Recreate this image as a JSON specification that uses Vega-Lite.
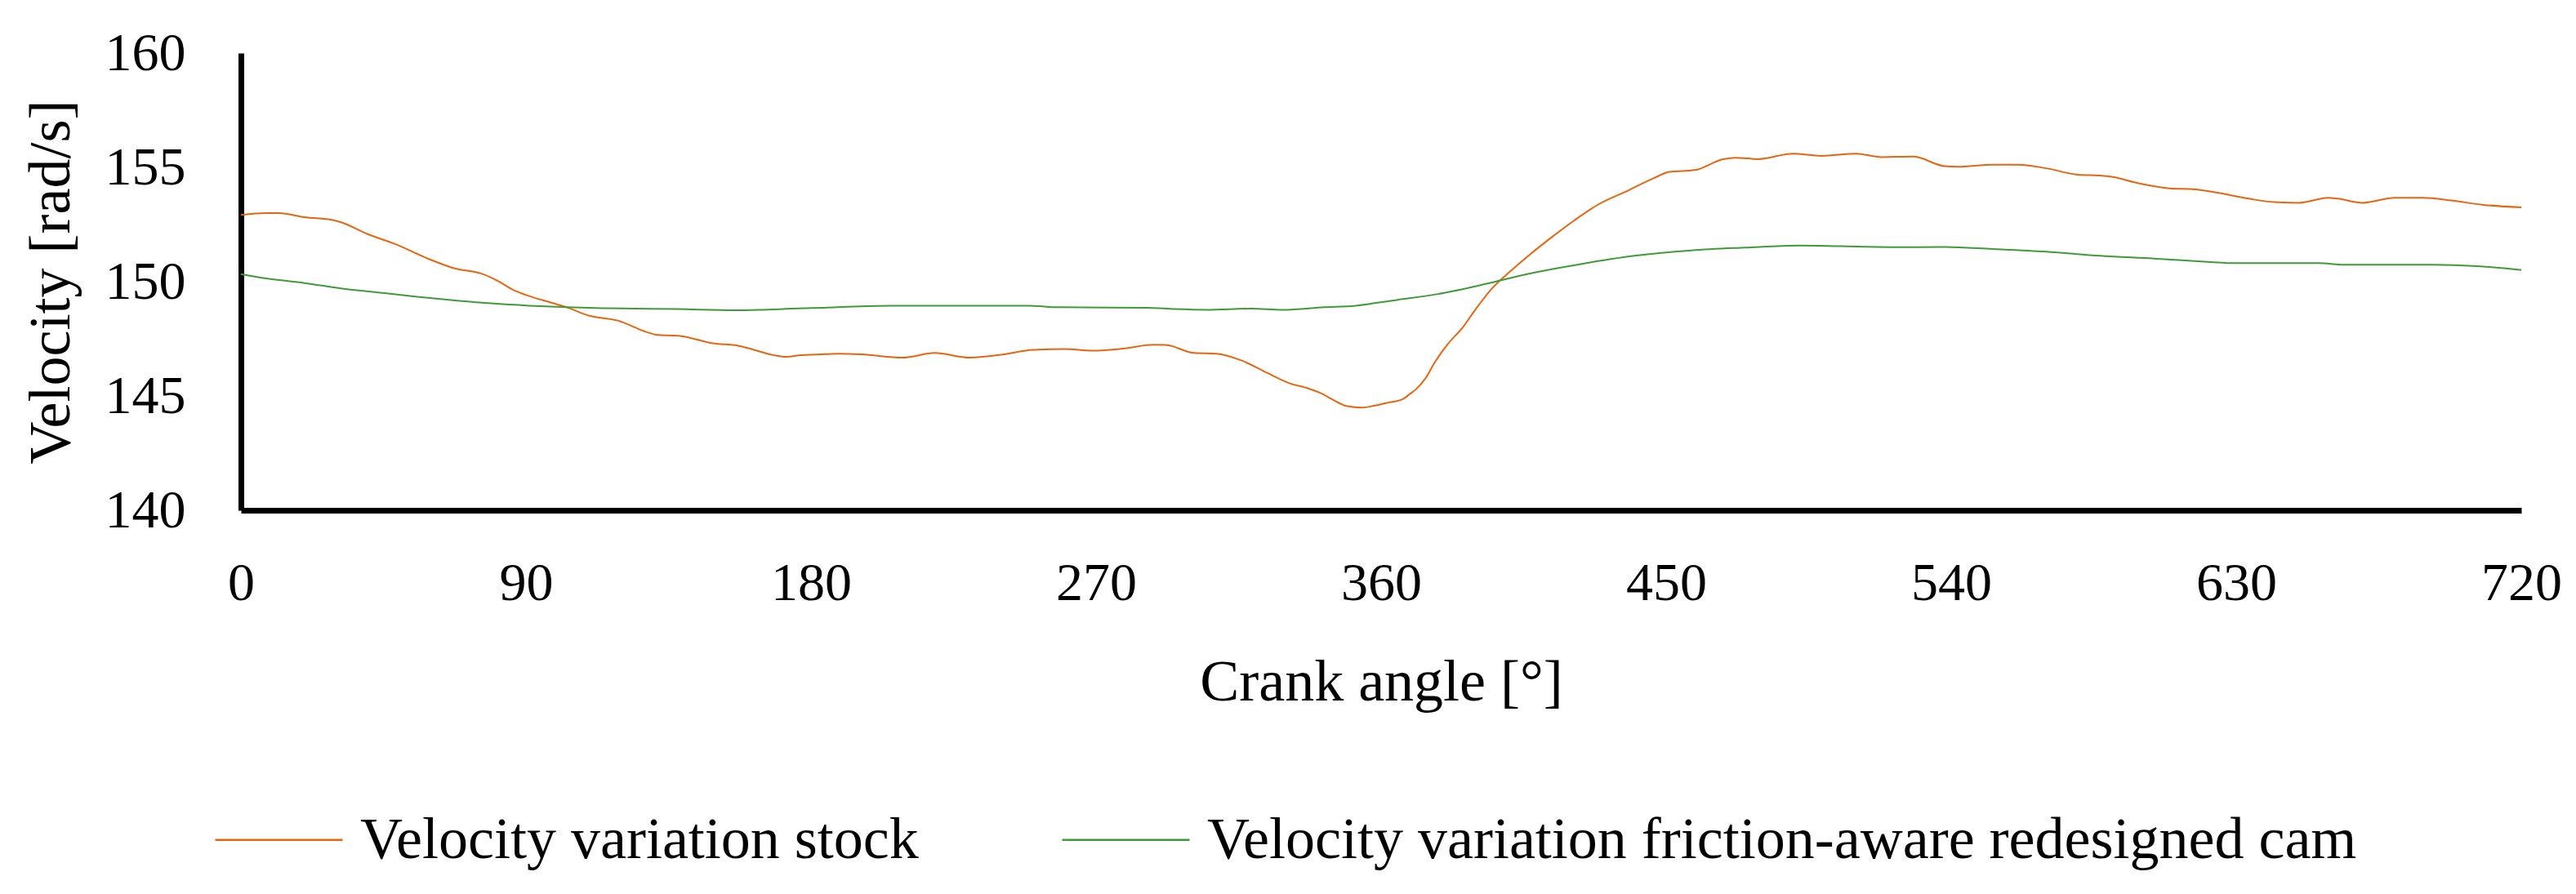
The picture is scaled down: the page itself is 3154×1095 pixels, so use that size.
{
  "$schema": "https://vega.github.io/schema/vega-lite/v6.json",
  "width": 2792,
  "height": 560,
  "autosize": {"type": "none"},
  "padding": {"left": 295, "top": 65, "right": 67, "bottom": 470},
  "background": "white",
  "config": {
    "view": {"stroke": null},
    "font": "Liberation Serif",
    "axis": {
      "domainColor": "black",
      "domainWidth": 7,
      "ticks": false,
      "tickSize": 0,
      "grid": false,
      "labelFont": "Liberation Serif",
      "labelFontSize": 66,
      "labelColor": "black",
      "titleFont": "Liberation Serif",
      "titleFontSize": 72,
      "titleFontWeight": "normal",
      "titleColor": "black"
    },
    "legend": {
      "labelFont": "Liberation Serif",
      "labelFontSize": 72,
      "labelColor": "black",
      "labelLimit": 0,
      "padding": 0
    }
  },
  "data": {
    "values": [
      {"angle": 0, "v": 152.92, "series": "Velocity variation stock"},
      {"angle": 8, "v": 153.0, "series": "Velocity variation stock"},
      {"angle": 12, "v": 153.0, "series": "Velocity variation stock"},
      {"angle": 20, "v": 152.82, "series": "Velocity variation stock"},
      {"angle": 29, "v": 152.7, "series": "Velocity variation stock"},
      {"angle": 32, "v": 152.58, "series": "Velocity variation stock"},
      {"angle": 40, "v": 152.08, "series": "Velocity variation stock"},
      {"angle": 49, "v": 151.63, "series": "Velocity variation stock"},
      {"angle": 59, "v": 151.01, "series": "Velocity variation stock"},
      {"angle": 67, "v": 150.6, "series": "Velocity variation stock"},
      {"angle": 77, "v": 150.3, "series": "Velocity variation stock"},
      {"angle": 81, "v": 150.04, "series": "Velocity variation stock"},
      {"angle": 86, "v": 149.64, "series": "Velocity variation stock"},
      {"angle": 91, "v": 149.37, "series": "Velocity variation stock"},
      {"angle": 98, "v": 149.08, "series": "Velocity variation stock"},
      {"angle": 103, "v": 148.87, "series": "Velocity variation stock"},
      {"angle": 110, "v": 148.51, "series": "Velocity variation stock"},
      {"angle": 119, "v": 148.3, "series": "Velocity variation stock"},
      {"angle": 128, "v": 147.8, "series": "Velocity variation stock"},
      {"angle": 131, "v": 147.68, "series": "Velocity variation stock"},
      {"angle": 139, "v": 147.62, "series": "Velocity variation stock"},
      {"angle": 149, "v": 147.3, "series": "Velocity variation stock"},
      {"angle": 157, "v": 147.2, "series": "Velocity variation stock"},
      {"angle": 162, "v": 147.02, "series": "Velocity variation stock"},
      {"angle": 168, "v": 146.79, "series": "Velocity variation stock"},
      {"angle": 172, "v": 146.71, "series": "Velocity variation stock"},
      {"angle": 177, "v": 146.79, "series": "Velocity variation stock"},
      {"angle": 182, "v": 146.81, "series": "Velocity variation stock"},
      {"angle": 189, "v": 146.85, "series": "Velocity variation stock"},
      {"angle": 196, "v": 146.82, "series": "Velocity variation stock"},
      {"angle": 209, "v": 146.68, "series": "Velocity variation stock"},
      {"angle": 219, "v": 146.88, "series": "Velocity variation stock"},
      {"angle": 230, "v": 146.68, "series": "Velocity variation stock"},
      {"angle": 241, "v": 146.82, "series": "Velocity variation stock"},
      {"angle": 250, "v": 147.02, "series": "Velocity variation stock"},
      {"angle": 260, "v": 147.05, "series": "Velocity variation stock"},
      {"angle": 269, "v": 146.98, "series": "Velocity variation stock"},
      {"angle": 279, "v": 147.08, "series": "Velocity variation stock"},
      {"angle": 288, "v": 147.24, "series": "Velocity variation stock"},
      {"angle": 292, "v": 147.23, "series": "Velocity variation stock"},
      {"angle": 301, "v": 146.88, "series": "Velocity variation stock"},
      {"angle": 308, "v": 146.85, "series": "Velocity variation stock"},
      {"angle": 316, "v": 146.55, "series": "Velocity variation stock"},
      {"angle": 324, "v": 146.01, "series": "Velocity variation stock"},
      {"angle": 331, "v": 145.56, "series": "Velocity variation stock"},
      {"angle": 337, "v": 145.33, "series": "Velocity variation stock"},
      {"angle": 341, "v": 145.12, "series": "Velocity variation stock"},
      {"angle": 345, "v": 144.82, "series": "Velocity variation stock"},
      {"angle": 349, "v": 144.56, "series": "Velocity variation stock"},
      {"angle": 354, "v": 144.49, "series": "Velocity variation stock"},
      {"angle": 358, "v": 144.58, "series": "Velocity variation stock"},
      {"angle": 362, "v": 144.7, "series": "Velocity variation stock"},
      {"angle": 367, "v": 144.87, "series": "Velocity variation stock"},
      {"angle": 369, "v": 145.08, "series": "Velocity variation stock"},
      {"angle": 371, "v": 145.29, "series": "Velocity variation stock"},
      {"angle": 374, "v": 145.77, "series": "Velocity variation stock"},
      {"angle": 377, "v": 146.48, "series": "Velocity variation stock"},
      {"angle": 381, "v": 147.26, "series": "Velocity variation stock"},
      {"angle": 386, "v": 148.04, "series": "Velocity variation stock"},
      {"angle": 389, "v": 148.63, "series": "Velocity variation stock"},
      {"angle": 395, "v": 149.7, "series": "Velocity variation stock"},
      {"angle": 401, "v": 150.48, "series": "Velocity variation stock"},
      {"angle": 407, "v": 151.19, "series": "Velocity variation stock"},
      {"angle": 414, "v": 151.96, "series": "Velocity variation stock"},
      {"angle": 421, "v": 152.68, "series": "Velocity variation stock"},
      {"angle": 428, "v": 153.33, "series": "Velocity variation stock"},
      {"angle": 438, "v": 153.99, "series": "Velocity variation stock"},
      {"angle": 446, "v": 154.52, "series": "Velocity variation stock"},
      {"angle": 451, "v": 154.8, "series": "Velocity variation stock"},
      {"angle": 459, "v": 154.88, "series": "Velocity variation stock"},
      {"angle": 468, "v": 155.36, "series": "Velocity variation stock"},
      {"angle": 472, "v": 155.42, "series": "Velocity variation stock"},
      {"angle": 479, "v": 155.36, "series": "Velocity variation stock"},
      {"angle": 490, "v": 155.6, "series": "Velocity variation stock"},
      {"angle": 499, "v": 155.5, "series": "Velocity variation stock"},
      {"angle": 510, "v": 155.6, "series": "Velocity variation stock"},
      {"angle": 518, "v": 155.45, "series": "Velocity variation stock"},
      {"angle": 528, "v": 155.47, "series": "Velocity variation stock"},
      {"angle": 538, "v": 155.05, "series": "Velocity variation stock"},
      {"angle": 542, "v": 155.03, "series": "Velocity variation stock"},
      {"angle": 553, "v": 155.12, "series": "Velocity variation stock"},
      {"angle": 561, "v": 155.12, "series": "Velocity variation stock"},
      {"angle": 570, "v": 154.96, "series": "Velocity variation stock"},
      {"angle": 580, "v": 154.68, "series": "Velocity variation stock"},
      {"angle": 587, "v": 154.64, "series": "Velocity variation stock"},
      {"angle": 591, "v": 154.58, "series": "Velocity variation stock"},
      {"angle": 599, "v": 154.31, "series": "Velocity variation stock"},
      {"angle": 609, "v": 154.08, "series": "Velocity variation stock"},
      {"angle": 617, "v": 154.04, "series": "Velocity variation stock"},
      {"angle": 624, "v": 153.89, "series": "Velocity variation stock"},
      {"angle": 634, "v": 153.63, "series": "Velocity variation stock"},
      {"angle": 642, "v": 153.48, "series": "Velocity variation stock"},
      {"angle": 650, "v": 153.45, "series": "Velocity variation stock"},
      {"angle": 659, "v": 153.67, "series": "Velocity variation stock"},
      {"angle": 662, "v": 153.63, "series": "Velocity variation stock"},
      {"angle": 670, "v": 153.45, "series": "Velocity variation stock"},
      {"angle": 680, "v": 153.67, "series": "Velocity variation stock"},
      {"angle": 689, "v": 153.67, "series": "Velocity variation stock"},
      {"angle": 698, "v": 153.55, "series": "Velocity variation stock"},
      {"angle": 708, "v": 153.36, "series": "Velocity variation stock"},
      {"angle": 720, "v": 153.25, "series": "Velocity variation stock"},
      {"angle": 0, "v": 150.33, "series": "Velocity variation friction-aware redesigned cam"},
      {"angle": 8, "v": 150.14, "series": "Velocity variation friction-aware redesigned cam"},
      {"angle": 20, "v": 149.94, "series": "Velocity variation friction-aware redesigned cam"},
      {"angle": 32, "v": 149.7, "series": "Velocity variation friction-aware redesigned cam"},
      {"angle": 44, "v": 149.52, "series": "Velocity variation friction-aware redesigned cam"},
      {"angle": 55, "v": 149.35, "series": "Velocity variation friction-aware redesigned cam"},
      {"angle": 67, "v": 149.19, "series": "Velocity variation friction-aware redesigned cam"},
      {"angle": 79, "v": 149.05, "series": "Velocity variation friction-aware redesigned cam"},
      {"angle": 91, "v": 148.95, "series": "Velocity variation friction-aware redesigned cam"},
      {"angle": 103, "v": 148.88, "series": "Velocity variation friction-aware redesigned cam"},
      {"angle": 115, "v": 148.84, "series": "Velocity variation friction-aware redesigned cam"},
      {"angle": 138, "v": 148.8, "series": "Velocity variation friction-aware redesigned cam"},
      {"angle": 156, "v": 148.75, "series": "Velocity variation friction-aware redesigned cam"},
      {"angle": 164, "v": 148.77, "series": "Velocity variation friction-aware redesigned cam"},
      {"angle": 174, "v": 148.82, "series": "Velocity variation friction-aware redesigned cam"},
      {"angle": 184, "v": 148.86, "series": "Velocity variation friction-aware redesigned cam"},
      {"angle": 205, "v": 148.95, "series": "Velocity variation friction-aware redesigned cam"},
      {"angle": 249, "v": 148.95, "series": "Velocity variation friction-aware redesigned cam"},
      {"angle": 258, "v": 148.88, "series": "Velocity variation friction-aware redesigned cam"},
      {"angle": 286, "v": 148.86, "series": "Velocity variation friction-aware redesigned cam"},
      {"angle": 295, "v": 148.8, "series": "Velocity variation friction-aware redesigned cam"},
      {"angle": 305, "v": 148.77, "series": "Velocity variation friction-aware redesigned cam"},
      {"angle": 319, "v": 148.82, "series": "Velocity variation friction-aware redesigned cam"},
      {"angle": 329, "v": 148.77, "series": "Velocity variation friction-aware redesigned cam"},
      {"angle": 342, "v": 148.88, "series": "Velocity variation friction-aware redesigned cam"},
      {"angle": 352, "v": 148.95, "series": "Velocity variation friction-aware redesigned cam"},
      {"angle": 358, "v": 149.06, "series": "Velocity variation friction-aware redesigned cam"},
      {"angle": 365, "v": 149.2, "series": "Velocity variation friction-aware redesigned cam"},
      {"angle": 378, "v": 149.46, "series": "Velocity variation friction-aware redesigned cam"},
      {"angle": 393, "v": 149.9, "series": "Velocity variation friction-aware redesigned cam"},
      {"angle": 407, "v": 150.36, "series": "Velocity variation friction-aware redesigned cam"},
      {"angle": 423, "v": 150.77, "series": "Velocity variation friction-aware redesigned cam"},
      {"angle": 440, "v": 151.13, "series": "Velocity variation friction-aware redesigned cam"},
      {"angle": 458, "v": 151.37, "series": "Velocity variation friction-aware redesigned cam"},
      {"angle": 475, "v": 151.49, "series": "Velocity variation friction-aware redesigned cam"},
      {"angle": 492, "v": 151.58, "series": "Velocity variation friction-aware redesigned cam"},
      {"angle": 505, "v": 151.55, "series": "Velocity variation friction-aware redesigned cam"},
      {"angle": 523, "v": 151.51, "series": "Velocity variation friction-aware redesigned cam"},
      {"angle": 538, "v": 151.52, "series": "Velocity variation friction-aware redesigned cam"},
      {"angle": 553, "v": 151.43, "series": "Velocity variation friction-aware redesigned cam"},
      {"angle": 570, "v": 151.31, "series": "Velocity variation friction-aware redesigned cam"},
      {"angle": 587, "v": 151.13, "series": "Velocity variation friction-aware redesigned cam"},
      {"angle": 604, "v": 151.01, "series": "Velocity variation friction-aware redesigned cam"},
      {"angle": 622, "v": 150.86, "series": "Velocity variation friction-aware redesigned cam"},
      {"angle": 629, "v": 150.81, "series": "Velocity variation friction-aware redesigned cam"},
      {"angle": 656, "v": 150.81, "series": "Velocity variation friction-aware redesigned cam"},
      {"angle": 664, "v": 150.74, "series": "Velocity variation friction-aware redesigned cam"},
      {"angle": 692, "v": 150.74, "series": "Velocity variation friction-aware redesigned cam"},
      {"angle": 706, "v": 150.68, "series": "Velocity variation friction-aware redesigned cam"},
      {"angle": 720, "v": 150.51, "series": "Velocity variation friction-aware redesigned cam"}
    ]
  },
  "mark": {"type": "line", "strokeWidth": 2, "interpolate": "monotone"},
  "encoding": {
    "x": {
      "field": "angle",
      "type": "quantitative",
      "title": "Crank angle [°]",
      "scale": {"domain": [0, 720], "nice": false},
      "axis": {
        "values": [0, 90, 180, 270, 360, 450, 540, 630, 720],
        "labelPadding": 57,
        "labelFlush": false,
        "titleBaseline": "top",
        "titleY": 175
      }
    },
    "y": {
      "field": "v",
      "type": "quantitative",
      "title": "Velocity [rad/s]",
      "scale": {"domain": [140, 160], "nice": false, "zero": false},
      "axis": {
        "values": [140, 145, 150, 155, 160],
        "labelPadding": 68,
        "titleAngle": 270,
        "titleBaseline": "top",
        "titleAlign": "center",
        "titleX": -268,
        "titleY": 280
      }
    },
    "color": {
      "field": "series",
      "type": "nominal",
      "sort": null,
      "scale": {
        "domain": ["Velocity variation stock", "Velocity variation friction-aware redesigned cam"],
        "range": ["#E8650F", "#3F9B3A"]
      },
      "legend": {
        "title": null,
        "orient": "none",
        "direction": "horizontal",
        "legendX": -33,
        "legendY": 884,
        "symbolType": "stroke",
        "symbolSize": 24336,
        "symbolStrokeWidth": 2.5,
        "labelOffset": 20,
        "columnPadding": 170
      }
    }
  }
}
